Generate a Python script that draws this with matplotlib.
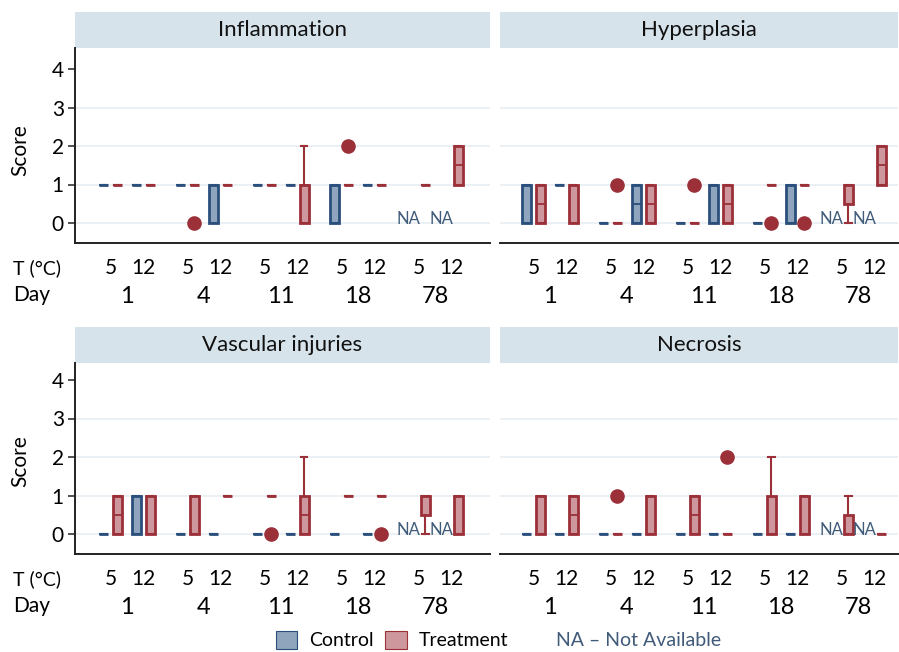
import matplotlib.pyplot as plt
from matplotlib.patches import Patch, Rectangle

plt.rcParams['font.family'] = ['Lato', 'DejaVu Sans']

# -----------------------------
# Data (box stats: q1, median, q3, whisker low, whisker high, outliers)
# order: D1 T5, D1 T12, D4 T5, D4 T12, D11 T5, D11 T12, D18 T5, D18 T12, D78 T5, D78 T12
# None = not available
# -----------------------------
days = ["1", "4", "11", "18", "78"]
temps = ["5", "12"]
panel_titles = ["Inflammation", "Hyperplasia", "Vascular injuries", "Necrosis"]

inflammation_control = [
    (1, 1, 1, 1, 1, []), (1, 1, 1, 1, 1, []),
    (1, 1, 1, 1, 1, []), (0, 0, 1, 0, 1, []),
    (1, 1, 1, 1, 1, []), (1, 1, 1, 1, 1, []),
    (0, 0, 1, 0, 1, []), (1, 1, 1, 1, 1, []),
    None, None]
inflammation_treatment = [
    (1, 1, 1, 1, 1, []), (1, 1, 1, 1, 1, []),
    (1, 1, 1, 1, 1, [0]), (1, 1, 1, 1, 1, []),
    (1, 1, 1, 1, 1, []), (0, 1, 1, 0, 2, []),
    (1, 1, 1, 1, 1, [2]), (1, 1, 1, 1, 1, []),
    (1, 1, 1, 1, 1, []), (1, 1.5, 2, 1, 2, [])]

hyperplasia_control = [
    (0, 1, 1, 0, 1, []), (1, 1, 1, 1, 1, []),
    (0, 0, 0, 0, 0, []), (0, 0.5, 1, 0, 1, []),
    (0, 0, 0, 0, 0, []), (0, 1, 1, 0, 1, []),
    (0, 0, 0, 0, 0, []), (0, 0, 1, 0, 1, []),
    None, None]
hyperplasia_treatment = [
    (0, 0.5, 1, 0, 1, []), (0, 0, 1, 0, 1, []),
    (0, 0, 0, 0, 0, [1]), (0, 0.5, 1, 0, 1, []),
    (0, 0, 0, 0, 0, [1]), (0, 0.5, 1, 0, 1, []),
    (1, 1, 1, 1, 1, [0]), (1, 1, 1, 1, 1, [0]),
    (0.5, 1, 1, 0, 1, []), (1, 1.5, 2, 1, 2, [])]

vascular_control = [
    (0, 0, 0, 0, 0, []), (0, 1, 1, 0, 1, []),
    (0, 0, 0, 0, 0, []), (0, 0, 0, 0, 0, []),
    (0, 0, 0, 0, 0, []), (0, 0, 0, 0, 0, []),
    (0, 0, 0, 0, 0, []), (0, 0, 0, 0, 0, []),
    None, None]
vascular_treatment = [
    (0, 0.5, 1, 0, 1, []), (0, 0, 1, 0, 1, []),
    (0, 1, 1, 0, 1, []), (1, 1, 1, 1, 1, []),
    (1, 1, 1, 1, 1, [0]), (0, 0.5, 1, 0, 2, []),
    (1, 1, 1, 1, 1, []), (1, 1, 1, 1, 1, [0]),
    (0.5, 1, 1, 0, 1, []), (0, 0, 1, 0, 1, [])]

necrosis_control = [
    (0, 0, 0, 0, 0, []), (0, 0, 0, 0, 0, []),
    (0, 0, 0, 0, 0, []), (0, 0, 0, 0, 0, []),
    (0, 0, 0, 0, 0, []), (0, 0, 0, 0, 0, []),
    (0, 0, 0, 0, 0, []), (0, 0, 0, 0, 0, []),
    None, None]
necrosis_treatment = [
    (0, 0, 1, 0, 1, []), (0, 0.5, 1, 0, 1, []),
    (0, 0, 0, 0, 0, [1]), (0, 0, 1, 0, 1, []),
    (0, 0.5, 1, 0, 1, []), (0, 0, 0, 0, 0, [2]),
    (0, 0, 1, 0, 2, []), (0, 0, 1, 0, 1, []),
    (0, 0, 0.5, 0, 1, []), (0, 0, 0, 0, 0, [])]

panels = [
    (inflammation_control, inflammation_treatment),
    (hyperplasia_control, hyperplasia_treatment),
    (vascular_control, vascular_treatment),
    (necrosis_control, necrosis_treatment),
]

# -----------------------------
# Style
# -----------------------------
ctrl_face, ctrl_edge = "#8fa4bd", "#2b4f7c"
trt_face, trt_edge = "#cd979d", "#9b3039"
header_color = "#d6e3ea"
grid_color = "#e8eef2"
na_color = "#3f5b79"

W, H = 899, 652
fig = plt.figure(figsize=(W / 100, H / 100), dpi=100)

# axes boxes in pixels: (left, top, right, bottom of plot area)
ax_px = [(75, 48, 490, 243), (500, 48, 898, 243),
         (75, 363, 490, 554), (500, 363, 898, 554)]
zero_px = [223, 223, 534, 534]
px_per_unit = 77.0
py_per_unit = 38.5
day_first_px = [127, 550, 127, 550]

temp_off = 0.214
grp_off = 0.09
box_w = 0.12


def positions(group_sign):
    pos = []
    for d in range(len(days)):
        for t in (-1, 1):
            pos.append(d + t * temp_off + group_sign * grp_off)
    return pos


def make_stats(entries, pos):
    stats, keep = [], []
    for e, p in zip(entries, pos):
        if e is None:
            continue
        q1, med, q3, lo, hi, fl = e
        stats.append(dict(q1=q1, med=med, q3=q3, whislo=lo, whishi=hi, fliers=fl))
        keep.append(p)
    return stats, keep


for i, (ctrl, trt) in enumerate(panels):
    l, t, r, b = ax_px[i]
    ax = fig.add_axes([l / W, 1 - b / H, (r - l) / W, (b - t) / H])
    x0 = -(day_first_px[i] - l) / px_per_unit
    ax.set_xlim(x0, x0 + (r - l) / px_per_unit)
    ax.set_ylim(-(b - zero_px[i]) / py_per_unit, (zero_px[i] - t) / py_per_unit)

    for g in [0, 1, 2, 3]:
        ax.axhline(g, color=grid_color, lw=1.2, zorder=0)

    for entries, sign, fc, ec in [(ctrl, -1, ctrl_face, ctrl_edge),
                                  (trt, 1, trt_face, trt_edge)]:
        stats, pos = make_stats(entries, positions(sign))
        ax.bxp(stats, positions=pos, widths=box_w, capwidths=0.08,
               patch_artist=True, manage_ticks=False,
               boxprops=dict(facecolor=fc, edgecolor=ec, linewidth=2.0),
               medianprops=dict(color=ec, linewidth=1.3),
               whiskerprops=dict(color=ec, linewidth=1.5),
               capprops=dict(color=ec, linewidth=1.5),
               flierprops=dict(marker="o", markerfacecolor=trt_edge,
                               markeredgecolor=trt_edge, markersize=9.5))
        # NA labels where data missing
        for e, p in zip(entries, positions(sign)):
            if e is None:
                ax.text(p - 0.04, 0.1, "NA", color=na_color, fontsize=12,
                        ha="center", va="center")

    # x ticks: temperature (major) and day (minor)
    tpos = [d + s * temp_off for d in range(len(days)) for s in (-1, 1)]
    ax.set_xticks(tpos)
    ax.set_xticklabels(temps * len(days))
    ax.set_xticks(range(len(days)), minor=True)
    ax.set_xticklabels(days, minor=True)
    ax.tick_params(axis="x", which="major", length=0, labelsize=15, pad=11)
    ax.tick_params(axis="x", which="minor", length=0, labelsize=17, pad=31)

    for s in ["top", "right"]:
        ax.spines[s].set_visible(False)
    ax.spines["bottom"].set_color("#222222")
    ax.spines["bottom"].set_linewidth(1.4)

    ax.set_yticks([0, 1, 2, 3, 4])
    if i % 2 == 0:
        ax.spines["left"].set_color("#222222")
        ax.spines["left"].set_linewidth(1.4)
        ax.tick_params(axis="y", length=5, width=1.3, color="#444444",
                       labelsize=15, pad=3)
    else:
        ax.spines["left"].set_visible(False)
        ax.tick_params(axis="y", length=0, labelleft=False)

    # panel header strip
    hh = 36 / (b - t)
    ax.add_patch(Rectangle((0, 1), 1, hh, transform=ax.transAxes,
                           facecolor=header_color, edgecolor="none",
                           clip_on=False))
    ax.text(0.5, 1 + hh / 2, panel_titles[i], transform=ax.transAxes,
            ha="center", va="center", fontsize=16, color="#111111")

    if i % 2 == 0:
        fig.text(20 / W, 1 - (zero_px[i] - 1.9 * py_per_unit) / H, "Score",
                 rotation=90, ha="center", va="center", fontsize=15)
        fig.text(13 / W, 1 - (b + 25) / H, "T (°C)", ha="left",
                 va="center", fontsize=14)
        fig.text(13 / W, 1 - (b + 52) / H, "Day", ha="left",
                 va="center", fontsize=15)

# legend
handles = [Patch(facecolor=ctrl_face, edgecolor=ctrl_edge, lw=0.8, label="Control"),
           Patch(facecolor=trt_face, edgecolor=trt_edge, lw=0.8, label="Treatment")]
fig.legend(handles=handles, loc="center", ncol=2, frameon=False,
           bbox_to_anchor=(392 / W, 1 - 640 / H), fontsize=14,
           handlelength=1.1, handleheight=1.1, handletextpad=0.6,
           columnspacing=0.6, borderpad=0.1)
fig.text(556 / W, 1 - 640 / H, "NA – Not Available", color=na_color,
         fontsize=14, ha="left", va="center")

plt.savefig("out.png", dpi=100)
